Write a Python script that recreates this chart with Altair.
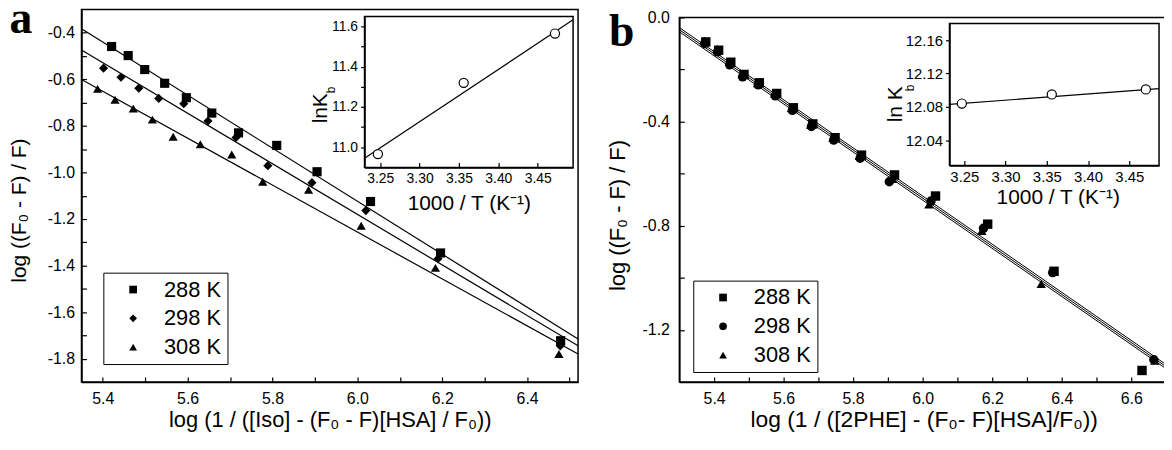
import altair as alt
import pandas as pd

FONT = "Liberation Sans"
temps = ["288 K", "298 K", "308 K"]

# ---------------- Panel a (Iso) ----------------
a_288_x = [5.421, 5.460, 5.499, 5.546, 5.597, 5.657, 5.720, 5.810, 5.905, 6.031, 6.196, 6.479]
a_288_y = [-0.459, -0.498, -0.558, -0.617, -0.679, -0.745, -0.830, -0.884, -0.997, -1.125, -1.346, -1.723]
a_298_x = [5.402, 5.443, 5.485, 5.532, 5.591, 5.648, 5.714, 5.789, 5.893, 6.020, 6.190, 6.478]
a_298_y = [-0.552, -0.591, -0.638, -0.682, -0.705, -0.779, -0.850, -0.971, -1.044, -1.164, -1.371, -1.745]
a_308_x = [5.388, 5.429, 5.472, 5.517, 5.566, 5.630, 5.704, 5.777, 5.885, 6.009, 6.184, 6.475]
a_308_y = [-0.641, -0.688, -0.726, -0.773, -0.847, -0.879, -0.923, -1.040, -1.075, -1.229, -1.410, -1.780]
fit_a_x = [5.35, 6.52]
fit_a_288 = [-0.383, -1.716]
fit_a_298 = [-0.474, -1.745]
fit_a_308 = [-0.601, -1.780]

# inset a (van't Hoff)
ins_a_x = [3.247, 3.356, 3.472]
ins_a_y = [10.966, 11.320, 11.565]
ins_a_fit_x = [3.23, 3.495]
ins_a_fit_y = [10.945, 11.633]

# ---------------- Panel b (2PHE) ----------------
b_288_x = [5.376, 5.413, 5.448, 5.486, 5.530, 5.580, 5.628, 5.684, 5.748, 5.824, 5.919, 6.037, 6.187, 6.378, 6.631]
b_288_y = [-0.094, -0.126, -0.172, -0.219, -0.251, -0.292, -0.347, -0.409, -0.462, -0.529, -0.605, -0.686, -0.794, -0.975, -1.356]
b_298_x = [5.373, 5.410, 5.445, 5.482, 5.527, 5.576, 5.625, 5.680, 5.744, 5.820, 5.904, 6.024, 6.175, 6.374, 6.665]
b_298_y = [-0.100, -0.132, -0.182, -0.228, -0.259, -0.301, -0.357, -0.419, -0.471, -0.541, -0.631, -0.705, -0.810, -0.980, -1.315]
b_308_x = [5.372, 5.409, 5.444, 5.481, 5.525, 5.574, 5.623, 5.678, 5.742, 5.818, 5.914, 6.018, 6.170, 6.341, 6.668]
b_308_y = [-0.090, -0.121, -0.170, -0.217, -0.252, -0.293, -0.348, -0.412, -0.463, -0.532, -0.620, -0.718, -0.820, -1.024, -1.318]
fit_b_x = [5.3, 6.7]
fit_b_288 = [-0.039, -1.333]
fit_b_298 = [-0.047, -1.341]
fit_b_308 = [-0.055, -1.349]

ins_b_x = [3.247, 3.356, 3.470]
ins_b_y = [12.084, 12.095, 12.101]
ins_b_fit_x = [3.232, 3.486]
ins_b_fit_y = [12.083, 12.102]

# axis tick values / labels
a_xticks = [5.4, 5.5, 5.6, 5.7, 5.8, 5.9, 6.0, 6.1, 6.2, 6.3, 6.4, 6.5]
a_yticks = [-1.8, -1.7, -1.6, -1.5, -1.4, -1.3, -1.2, -1.1, -1.0, -0.9, -0.8, -0.7, -0.6, -0.5, -0.4]
b_xticks = [5.4, 5.5, 5.6, 5.7, 5.8, 5.9, 6.0, 6.1, 6.2, 6.3, 6.4, 6.5, 6.6]
b_yticks = [0.0, -0.2, -0.4, -0.6, -0.8, -1.0, -1.2]
ia_xticks = [3.25, 3.30, 3.35, 3.40, 3.45]
ia_yticks = [11.0, 11.1, 11.2, 11.3, 11.4, 11.5, 11.6]
ib_xticks = [3.25, 3.30, 3.35, 3.40, 3.45]
ib_yticks = [12.04, 12.08, 12.12, 12.16]


def pts_df(xs_list, ys_list):
    rows = []
    for t, xs, ys in zip(temps, xs_list, ys_list):
        for x, y in zip(xs, ys):
            rows.append({"x": x, "y": y, "T": t})
    return pd.DataFrame(rows)


def line_df(xs, ys_list):
    rows = []
    for t, ys in zip(temps, ys_list):
        for x, y in zip(xs, ys):
            rows.append({"x": x, "y": y, "T": t})
    return pd.DataFrame(rows)


def lab(mult, mod, fmt):
    return (f"abs(round(datum.value*{mult})) % {mod} == 0 ? "
            f"(datum.value < 0 ? '-' : '') + format(abs(datum.value), '{fmt}') : ''")


def axis(orient, title, values, label_expr, title_x, title_y, offset=0, tick_in=True,
         label_size=16, title_size=21, label_padding=4):
    return alt.Axis(
        orient=orient, title=title, values=values, labelExpr=label_expr, offset=offset,
        grid=False, domainColor="black", domainWidth=1.5, tickColor="black", tickWidth=1.2,
        tickSize={"expr": "-5"} if tick_in else 4,
        labelFont=FONT, labelFontSize=label_size, labelColor="black", labelPadding=label_padding,
        labelOverlap=False, labelFlush=False,
        titleFont=FONT, titleFontSize=title_size, titleFontWeight="normal", titleColor="black",
        titleX=title_x, titleY=title_y, titleAlign="center", titleBaseline="middle",
        titleAngle=270 if orient in ("left", "right") else 0,
        zindex=1,
    )


def scale(dom, rng):
    return alt.Scale(domain=dom, range=rng, zero=False, nice=False)


def frame(xs, ys, xdom, ydom, sw=1.5):
    df = pd.DataFrame([{"x0": xdom[0], "x1": xdom[1], "y0": ydom[0], "y1": ydom[1]}])
    return alt.Chart(df).mark_rect(fill="white", stroke="black", strokeWidth=sw).encode(
        x=alt.X("x0:Q", scale=xs, axis=None), x2="x1:Q",
        y=alt.Y("y0:Q", scale=ys, axis=None), y2="y1:Q")


def main_panel(pts, lines, xdom, ydom, xr, yr, xaxis, yaxis, shapes, size, legend, lw):
    xs = scale(xdom, xr)
    ys = scale(ydom, yr)
    f = frame(xs, ys, xdom, ydom)
    l = alt.Chart(lines).mark_line(color="black", strokeWidth=lw).encode(
        x=alt.X("x:Q", scale=xs, axis=None), y=alt.Y("y:Q", scale=ys, axis=None), detail="T:N")
    p = alt.Chart(pts).mark_point(filled=True, color="black", opacity=1, size=size).encode(
        x=alt.X("x:Q", scale=xs, axis=xaxis),
        y=alt.Y("y:Q", scale=ys, axis=yaxis),
        shape=alt.Shape("T:N", scale=alt.Scale(domain=temps, range=shapes), legend=legend))
    return [f, l, p]


def inset(px, py, fx, fy, xdom, ydom, xr, yr, xaxis, yaxis):
    xs = scale(xdom, xr)
    ys = scale(ydom, yr)
    f = frame(xs, ys, xdom, ydom, 1.5)
    ldf = pd.DataFrame({"x": fx, "y": fy})
    pdf = pd.DataFrame({"x": px, "y": py})
    l = alt.Chart(ldf).mark_line(color="black", strokeWidth=1.2).encode(
        x=alt.X("x:Q", scale=xs, axis=None), y=alt.Y("y:Q", scale=ys, axis=None))
    p = alt.Chart(pdf).mark_point(filled=False, color="black", fill="white", fillOpacity=1,
                                  strokeWidth=1.2, size=85, shape="circle").encode(
        x=alt.X("x:Q", scale=xs, axis=xaxis), y=alt.Y("y:Q", scale=ys, axis=yaxis))
    return [f, l, p]


def legend(lx, ly, fs):
    return alt.Legend(orient="none", legendX=lx, legendY=ly, title=None,
                      labelFont=FONT, labelFontSize=fs, labelColor="black",
                      strokeColor="black", fillColor="white", padding=6,
                      symbolSize=60, symbolFillColor="black", symbolStrokeColor="black",
                      symbolStrokeWidth=0, symbolOffset=13, labelOffset=20, rowPadding=7)


def label_text(txt, x, y, size, angle=0, weight="normal", font=FONT, baseline="alphabetic"):
    return alt.Chart(pd.DataFrame({"t": [txt]})).mark_text(
        font=font, fontSize=size, fontWeight=weight, color="black", angle=angle,
        align="center", baseline=baseline).encode(
        text="t:N", x=alt.value(x), y=alt.value(y))


YT = "log ((F\u2080 - F) / F)"

panel_a = main_panel(
    pts_df([a_288_x, a_298_x, a_308_x], [a_288_y, a_298_y, a_308_y]),
    line_df(fit_a_x, [fit_a_288, fit_a_298, fit_a_308]),
    [5.35, 6.52], [-1.9, -0.3], [0, 500], [375, 0],
    axis("bottom", "log (1 / ([Iso] - (F\u2080 - F)[HSA] / F\u2080))", a_xticks, lab(10, 2, ".1f"),
         250, 38, label_padding=14, title_size=22),
    axis("left", YT, a_yticks, lab(10, 2, ".1f"), -62, 202, label_padding=12),
    ["square", "diamond", "triangle-up"], 85, legend(22, 265, 22), 1.2)

inset_a = inset(
    ins_a_x, ins_a_y, ins_a_fit_x, ins_a_fit_y,
    [3.23, 3.495], [10.9, 11.65], [285, 495], [159, 7],
    axis("bottom", "1000 / T (K\u207b\u00b9)", ia_xticks, lab(100, 1, ".2f"), 390, 36,
         offset=-216, label_size=14, label_padding=9),
    axis("left", "lnK", ia_yticks, lab(10, 2, ".1f"), -44, 99, offset=-285, tick_in=False,
         label_size=14, label_padding=3))

panel_b = main_panel(
    pts_df([b_288_x, b_298_x, b_308_x], [b_288_y, b_298_y, b_308_y]),
    line_df(fit_b_x, [fit_b_288, fit_b_298, fit_b_308]),
    [5.3, 6.7], [-1.4, 0.0], [602, 1092], [375, 8],
    axis("bottom", "log (1 / ([2PHE] - (F\u2080- F)[HSA]/F\u2080))", b_xticks, lab(10, 2, ".1f"),
         848, 38, label_padding=14, title_size=23),
    axis("left", YT, b_yticks, lab(10, 4, ".1f"), -62, 207, offset=-602, label_padding=15,
         title_size=22),
    ["square", "circle", "triangle-up"], 90, legend(616, 273, 22), 1.0)

inset_b = inset(
    ins_b_x, ins_b_y, ins_b_fit_x, ins_b_fit_y,
    [3.232, 3.486], [12.01, 12.18], [874, 1085], [157, 14],
    axis("bottom", "1000 / T (K\u207b\u00b9)", ib_xticks, lab(100, 1, ".2f"), 983, 32,
         offset=-218, label_size=15, label_padding=9),
    axis("left", "ln K", ib_yticks, lab(100, 1, ".2f"), -54, 95, offset=-874, tick_in=False,
         label_size=15, label_padding=3))

texts = [
    label_text("a", -61, 24, 46, weight="bold", font="Liberation Serif"),
    label_text("b", 544, 37, 46, weight="bold", font="Liberation Serif"),
    label_text("b", 251, 81, 12, angle=270, baseline="middle"),
    label_text("b", 834, 79, 12, angle=270, baseline="middle"),
]

chart = alt.layer(*panel_a, *panel_b, *inset_a, *inset_b, *texts).resolve_scale(
    x="independent", y="independent", shape="independent"
).properties(
    width=1090, height=375,
    padding={"left": 74, "top": 0, "right": 0, "bottom": 60},
    autosize=alt.AutoSizeParams(type="none"),
    background="white",
).configure_view(strokeWidth=0)

chart.save("out.html", embed_options={"renderer": "svg", "actions": False})
